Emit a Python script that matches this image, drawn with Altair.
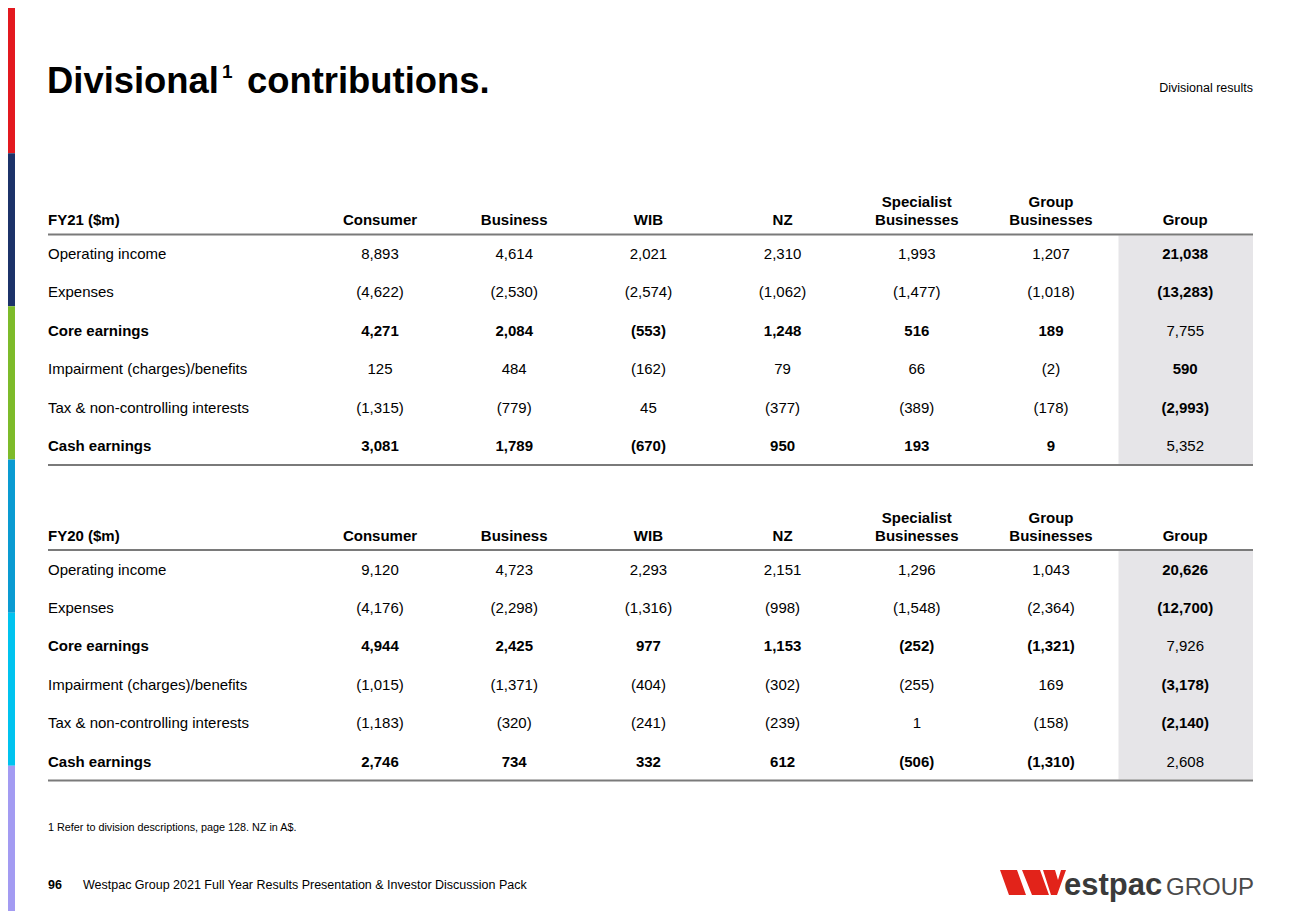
import altair as alt
import pandas as pd

# ---------------- data ----------------
columns = ["Consumer", "Business", "WIB", "NZ", "Specialist Businesses", "Group Businesses", "Group"]
header_line1 = ["", "", "", "", "Specialist", "Group", ""]
header_line2 = ["Consumer", "Business", "WIB", "NZ", "Businesses", "Businesses", "Group"]
row_labels = ["Operating income", "Expenses", "Core earnings",
              "Impairment (charges)/benefits", "Tax & non-controlling interests", "Cash earnings"]
bold_rows = [False, False, True, False, False, True]

fy21_consumer = [8893, -4622, 4271, 125, -1315, 3081]
fy21_business = [4614, -2530, 2084, 484, -779, 1789]
fy21_wib = [2021, -2574, -553, -162, 45, -670]
fy21_nz = [2310, -1062, 1248, 79, -377, 950]
fy21_specialist = [1993, -1477, 516, 66, -389, 193]
fy21_groupbus = [1207, -1018, 189, -2, -178, 9]
fy21_group = [21038, -13283, 7755, 590, -2993, 5352]

fy20_consumer = [9120, -4176, 4944, -1015, -1183, 2746]
fy20_business = [4723, -2298, 2425, -1371, -320, 734]
fy20_wib = [2293, -1316, 977, -404, -241, 332]
fy20_nz = [2151, -998, 1153, -302, -239, 612]
fy20_specialist = [1296, -1548, -252, -255, 1, -506]
fy20_groupbus = [1043, -2364, -1321, 169, -158, -1310]
fy20_group = [20626, -12700, 7926, -3178, -2140, 2608]

fy21 = [fy21_consumer, fy21_business, fy21_wib, fy21_nz, fy21_specialist, fy21_groupbus, fy21_group]
fy20 = [fy20_consumer, fy20_business, fy20_wib, fy20_nz, fy20_specialist, fy20_groupbus, fy20_group]
tables = [("FY21 ($m)", fy21), ("FY20 ($m)", fy20)]

title_main = "Divisional"
title_sup = "1"
title_rest = "contributions."
section_label = "Divisional results"
footnote = "1 Refer to division descriptions, page 128. NZ in A$."
page_number = "96"
footer_text = "Westpac Group 2021 Full Year Results Presentation & Investor Discussion Pack"

stripe_colors = ["#e3191f", "#1c3269", "#7dbb2a", "#0a9bd2", "#00c3ef", "#a39bf2"]

# ---------------- layout (reference pixel coordinates) ----------------
FONT = "Liberation Sans"
W, H = 1284, 903
XMIN, YMIN = 8, 8
XMAX, YMAX = XMIN + W, YMIN + H
XS = alt.Scale(domain=[XMIN, XMAX], nice=False, zero=False)
YS = alt.Scale(domain=[YMIN, YMAX], nice=False, zero=False, reverse=True)
col_x0, col_dx = 380, 134.2
col_centers = [col_x0 + col_dx * i for i in range(len(columns))]
table_offsets = [0, 315.5]
row_y0, row_dy = 254, 38.4


def fmt(v):
    s = f"{abs(v):,}"
    return f"({s})" if v < 0 else s


cells, labels, headers, rules, shades = [], [], [], [], []
for (tname, vals), off in zip(tables, table_offsets):
    headers.append(dict(x=48, y=220 + off, t=tname, a="left"))
    for ci, c in enumerate(columns):
        if header_line1[ci]:
            headers.append(dict(x=col_centers[ci], y=202 + off, t=header_line1[ci], a="center"))
        headers.append(dict(x=col_centers[ci], y=220 + off, t=header_line2[ci], a="center"))
    for ri, lab in enumerate(row_labels):
        y = row_y0 + row_dy * ri + off
        labels.append(dict(x=48, y=y, t=lab, b=bold_rows[ri]))
        for ci, c in enumerate(columns):
            is_group = (c == "Group")
            bold = bold_rows[ri] != is_group
            cells.append(dict(x=col_centers[ci], y=y, t=fmt(vals[ci][ri]), b=bold))
    rules.append(dict(x=48, x2=1253, y=234.5 + off))
    rules.append(dict(x=48, x2=1253, y=465 + off))
    shades.append(dict(x=1118.5, x2=1253, y=235.5 + off, y2=464 + off))

cells = pd.DataFrame(cells)
labels = pd.DataFrame(labels)
headers = pd.DataFrame(headers)
rules = pd.DataFrame(rules)
shades = pd.DataFrame(shades)

stripe_h = 919 / 6
stripes = pd.DataFrame(dict(
    x=[XMIN] * 6, x2=[XMIN + 7] * 6,
    y=[max(YMIN, stripe_h * i) for i in range(6)],
    y2=[min(YMAX, stripe_h * (i + 1)) for i in range(6)],
    c=stripe_colors,
))


def text_layer(df, size, weight="normal", align="left", color="#000000", baseline="middle"):
    return alt.Chart(df).mark_text(
        font=FONT, fontSize=size, fontWeight=weight, align=align,
        baseline=baseline, color=color
    ).encode(
        x=alt.X("x:Q", scale=XS, axis=None),
        y=alt.Y("y:Q", scale=YS, axis=None),
        text="t:N",
    )


layers = []

# left colour stripes
layers.append(alt.Chart(stripes).mark_rect().encode(
    x=alt.X("x:Q", scale=XS, axis=None), x2="x2:Q",
    y=alt.Y("y:Q", scale=YS, axis=None), y2="y2:Q",
    color=alt.Color("c:N", scale=None),
))

# shaded Group column
layers.append(alt.Chart(shades).mark_rect(color="#e6e5e8").encode(
    x=alt.X("x:Q", scale=XS, axis=None), x2="x2:Q",
    y=alt.Y("y:Q", scale=YS, axis=None), y2="y2:Q",
))

# rules
layers.append(alt.Chart(rules).mark_rule(color="#7a7a7a", strokeWidth=2).encode(
    x=alt.X("x:Q", scale=XS, axis=None), x2="x2:Q",
    y=alt.Y("y:Q", scale=YS, axis=None),
))

# headers
for a in ["left", "center"]:
    layers.append(text_layer(headers[headers.a == a], 15, "bold", a))

# row labels
layers.append(text_layer(labels[labels.b], 15, "bold", "left"))
layers.append(text_layer(labels[~labels.b], 15, "normal", "left"))

# cells
layers.append(text_layer(cells[cells.b], 15, "bold", "center"))
layers.append(text_layer(cells[~cells.b], 15, "normal", "center"))

# title
layers.append(text_layer(pd.DataFrame([dict(x=47, y=93, t=title_main), dict(x=247, y=93, t=title_rest)]),
                         36.4, "bold", "left", baseline="alphabetic"))
layers.append(text_layer(pd.DataFrame([dict(x=222, y=78, t=title_sup)]),
                         19, "bold", "left", baseline="alphabetic"))
layers.append(text_layer(pd.DataFrame([dict(x=1253, y=88, t=section_label)]), 12.5, "normal", "right"))

# footnote and footer
layers.append(text_layer(pd.DataFrame([dict(x=48, y=828, t=footnote)]), 10.8, "normal", "left"))
layers.append(text_layer(pd.DataFrame([dict(x=48, y=885, t=page_number)]), 12.5, "bold", "left"))
layers.append(text_layer(pd.DataFrame([dict(x=83, y=885, t=footer_text)]), 12.5, "normal", "left"))

# logo: red W as a custom symbol path
polys = [
    [(0, 0), (17, 0), (26, 25), (9, 25)],
    [(22, 0), (40, 0), (49, 25), (32, 25)],
    [(43, 0), (55, 0), (58, 10), (61, 0), (66, 0), (57, 25), (51, 25)],
]
r = 33.0
path = " ".join(
    "M" + " L".join(f"{(px - 33) / r:.4f},{(py - 12.5) / r:.4f}" for px, py in poly) + " Z"
    for poly in polys
)
layers.append(alt.Chart(pd.DataFrame([dict(x=1033, y=882.5)])).mark_point(
    shape=path, filled=True, color="#e2231a", opacity=1, size=(2 * r) ** 2, strokeWidth=0
).encode(
    x=alt.X("x:Q", scale=XS, axis=None),
    y=alt.Y("y:Q", scale=YS, axis=None),
))
layers.append(text_layer(pd.DataFrame([dict(x=1064, y=895, t="estpac")]), 31, "bold", "left",
                         color="#3a3a3a", baseline="alphabetic"))
layers.append(text_layer(pd.DataFrame([dict(x=1166, y=895, t="GROUP")]), 24, "normal", "left",
                         color="#4a4a4a", baseline="alphabetic"))

chart = alt.layer(*layers).properties(
    width=W, height=H,
    padding=0,
    autosize=alt.AutoSizeParams(type="fit", contains="padding"),
    background="#ffffff",
).configure_view(stroke=None)

chart.save("out.html", embed_options={"renderer": "svg", "actions": False})
